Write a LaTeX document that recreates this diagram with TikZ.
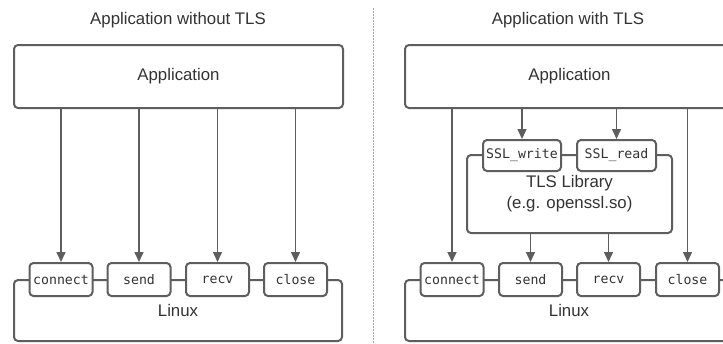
\documentclass[tikz,border=0pt]{standalone}
\usepackage{fontspec}
\setmainfont{Liberation Sans}
\newfontfamily\codefont{DejaVu Sans Mono}
\usetikzlibrary{arrows.meta}
\definecolor{linec}{HTML}{5E5E5E}
\definecolor{txt}{HTML}{333333}
\definecolor{divc}{HTML}{A8A8A8}
\tikzset{
  labelfont/.style={font=\fontsize{16.8}{21}\selectfont, text=txt},
  frame/.style={draw=linec, line width=2pt, rounded corners=4pt, fill=white, labelfont, align=center, inner sep=0pt},
  fnbox/.style={draw=linec, line width=2pt, rounded corners=4pt, fill=white, inner sep=0pt,
    minimum width=63pt, minimum height=33pt, text=txt, font=\codefont\fontsize{13.2}{16}\selectfont},
  callarrow/.style={draw=linec, line width=1.5pt, -{Triangle[length=10pt,width=9pt]}},
  title/.style={labelfont}
}
\begin{document}
\begin{tikzpicture}[x=1pt,y=-1pt]
\path[use as bounding box] (0,0) rectangle (723,343);
\clip (0,0) rectangle (723,343);
\fill[white] (0,0) rectangle (723,343);

% divider between the two cases
\draw[divc, line width=1pt, dash pattern=on 1.5pt off 1.5pt] (373.5,8) -- (373.5,343);

% ---------- left: plain sockets ----------
\node[title] (titleA) at (178,20) {Application without TLS};
\node[frame, minimum width=329pt, minimum height=63pt] (appA) at (178.5,76.5) {Application};
\node[frame, minimum width=328pt, minimum height=61pt] (linuxA) at (178,310.5) {Linux};
\node[fnbox] (connectA) at (61,279.5) {connect};
\node[fnbox] (sendA) at (139,279.5) {send};
\node[fnbox] (recvA) at (217.5,279.5) {recv};
\node[fnbox] (closeA) at (295.5,279.5) {close};
\foreach \n in {connectA,sendA,recvA,closeA}
  \draw[callarrow] (\n.north |- appA.south) -- (\n.north);

% ---------- right: through a TLS library ----------
\node[title] (titleB) at (568,20) {Application with TLS};
\node[frame, minimum width=329pt, minimum height=63pt] (appB) at (569.5,76.5) {Application};
\node[frame, minimum width=328pt, minimum height=61pt] (linuxB) at (569,310.5) {Linux};
\node[fnbox] (connectB) at (452,279.5) {connect};
\node[fnbox] (sendB) at (530.5,279.5) {send};
\node[fnbox] (recvB) at (608.5,279.5) {recv};
\node[fnbox] (closeB) at (687.5,279.5) {close};

\node[frame, minimum width=205pt, minimum height=78pt] (tls) at (569.5,194) {TLS Library\\(e.g. openssl.so)};
\node[fnbox, minimum width=78pt, minimum height=31pt] (sslw) at (522,155.5) {SSL\_write};
\node[fnbox, minimum width=79pt, minimum height=31pt] (sslr) at (616.5,155.5) {SSL\_read};

\draw[callarrow] (connectB.north |- appB.south) -- (connectB.north);
\draw[callarrow] (closeB.north |- appB.south) -- (closeB.north);
\draw[callarrow] (sslw.north |- appB.south) -- (sslw.north);
\draw[callarrow] (sslr.north |- appB.south) -- (sslr.north);
\draw[callarrow] (sendB.north |- tls.south) -- (sendB.north);
\draw[callarrow] (recvB.north |- tls.south) -- (recvB.north);
\end{tikzpicture}
\end{document}
